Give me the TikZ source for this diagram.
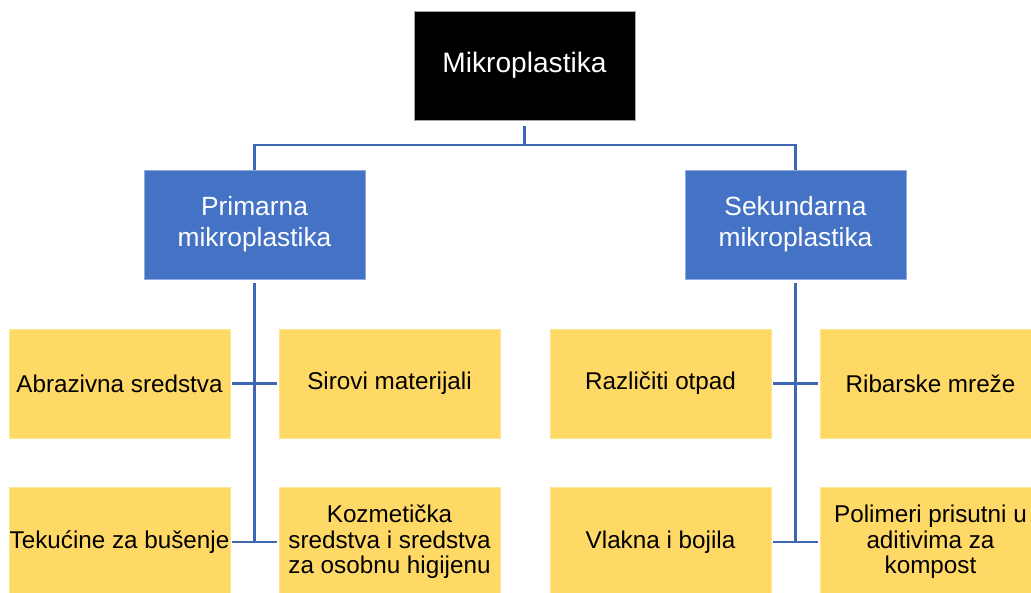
\documentclass[tikz,border=0pt]{standalone}
\usepackage{fontspec}
\setmainfont{Liberation Sans}
\definecolor{crna}{HTML}{000000}
\definecolor{plava}{HTML}{4472C4}
\definecolor{zuta}{HTML}{FFD966}
\definecolor{linija}{HTML}{3F66B0}
\tikzset{
	glavni/.style={fill=crna,draw=gray!70,thin,text=white,
		minimum width=4.42cm,minimum height=2.18cm,inner sep=0pt,
		font=\fontsize{16}{19}\selectfont},
	grupa/.style={fill=plava,draw=plava!60,thin,text=white,align=center,
		minimum width=4.42cm,minimum height=2.18cm,inner sep=0pt,
		font=\fontsize{15}{17.5}\selectfont},
	izvor/.style={fill=zuta,draw=zuta!70!white,thin,text=black,align=center,
		minimum width=4.42cm,minimum height=2.18cm,inner sep=0pt,
		font=\fontsize{13.8}{14.6}\selectfont},
	veza/.style={draw=linija,line width=1.5pt}
}
\begin{document}
\begin{tikzpicture}[x=0.02cm,y=-0.02cm]
%Rahmen
\useasboundingbox (0,0) rectangle (1031,592);
\clip (0,0) rectangle (1031,592);

\node[glavni] (mikro) at (524.5,65.5) {Mikroplastika};

\node[grupa] (prim) at (254.5,224.5) {Primarna\\mikroplastika};
\node[grupa] (sek) at (795.5,224.5) {Sekundarna\\mikroplastika};

%Primarna
\node[izvor] (abr) at (119.5,383.5) {Abrazivna sredstva};
\node[izvor] (sir) at (389.5,383.5) {Sirovi materijali};
\node[izvor] (tek) at (119.5,542) {Tekućine za bušenje};
\node[izvor] (koz) at (389.5,542) {Kozmetička\\sredstva i sredstva\\za osobnu higijenu};

%Sekundarna
\node[izvor] (raz) at (660.5,383.5) {Različiti otpad};
\node[izvor] (rib) at (930.5,383.5) {Ribarske mreže};
\node[izvor] (vla) at (660.5,542) {Vlakna i bojila};
\node[izvor] (pol) at (930.5,542) {Polimeri prisutni u\\aditivima za\\kompost};

\coordinate (sab) at (524.5,145);

\draw[veza] ([yshift=-3pt]mikro.south) -- (sab);
\draw[veza] (prim.north) |- (sab) -| (sek.north);

\draw[veza] ([yshift=-2pt]prim.south) -- (prim.south |- tek.east);
\draw[veza] ([xshift=1pt]abr.east) -- ([xshift=-1pt]sir.west);
\draw[veza] ([xshift=1pt]tek.east) -- ([xshift=-1pt]koz.west);

\draw[veza] ([yshift=-2pt]sek.south) -- (sek.south |- vla.east);
\draw[veza] ([xshift=1pt]raz.east) -- ([xshift=-1pt]rib.west);
\draw[veza] ([xshift=1pt]vla.east) -- ([xshift=-1pt]pol.west);
\end{tikzpicture}
\end{document}
